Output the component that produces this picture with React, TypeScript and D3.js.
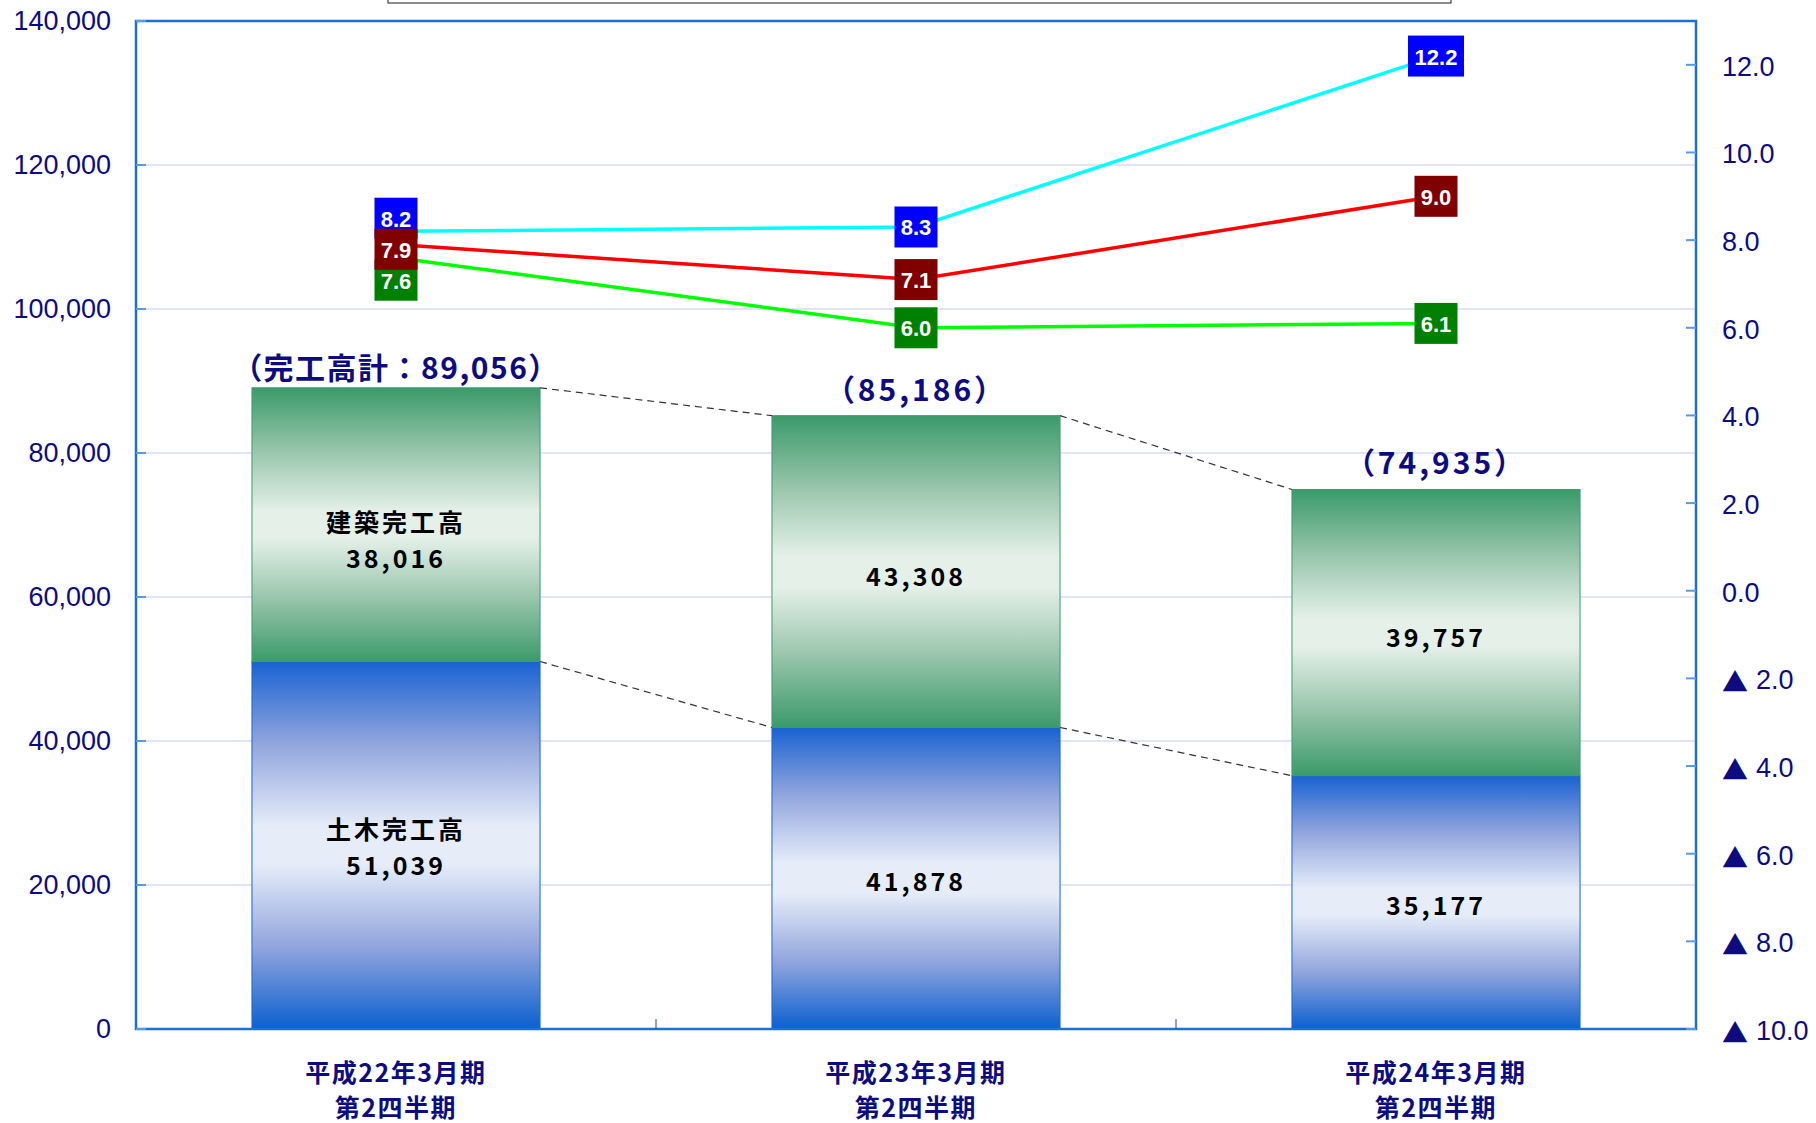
import * as d3 from "d3";

// 期間（横軸カテゴリ）
const periods = ["平成22年3月期", "平成23年3月期", "平成24年3月期"];
const periodSubs = ["第2四半期", "第2四半期", "第2四半期"];

// 完工高（百万円）
const civilValues = [51039, 41878, 35177];
const buildingValues = [38016, 43308, 39757];
const totalValues = [89056, 85186, 74935];
const segmentNames = ["土木完工高", "建築完工高"];

// 右軸の比率（%）
const rateCyan = [8.2, 8.3, 12.2];
const rateRed = [7.9, 7.1, 9.0];
const rateGreen = [7.6, 6.0, 6.1];

const leftTicks = [0, 20000, 40000, 60000, 80000, 100000, 120000, 140000];
const rightTicks = [-10, -8, -6, -4, -2, 0, 2, 4, 6, 8, 10, 12];

const W = 1816;
const H = 1123;
const margin = { top: 21, right: 120, bottom: 94, left: 136 };

const NAVY = "#0c0c80";
const AXIS = "#1a70d6";
const FONT = "'Noto Sans CJK JP', 'Liberation Sans', sans-serif";
const NUMFONT = "'Liberation Sans', Arial, sans-serif";

type LineSeries = { key: string; values: number[]; line: string; box: string };

const lineSeries: LineSeries[] = [
  { key: "cyan", values: rateCyan, line: "#00ffff", box: "#0000ff" },
  { key: "green", values: rateGreen, line: "#00ff00", box: "#008000" },
  { key: "red", values: rateRed, line: "#ff0000", box: "#800000" },
];

export default function App() {
  const x0 = margin.left;
  const x1 = W - margin.right;
  const y0 = H - margin.bottom;
  const y1 = margin.top;

  const xScale = d3
    .scaleBand<string>()
    .domain(periods)
    .range([x0, x1])
    .paddingInner(0.446)
    .paddingOuter(0.223);
  const bw = xScale.bandwidth();
  const cx = (i: number) => (xScale(periods[i]) ?? 0) + bw / 2;

  const yLeft = d3.scaleLinear().domain([0, 140000]).range([y0, y1]);
  const yRight = d3.scaleLinear().domain([-10, 13]).range([y0, y1]);

  const fmt = d3.format(",");

  const lineGen = d3
    .line<number>()
    .x((_, i) => cx(i))
    .y((d) => yRight(d));

  // ラベル位置の重なりを簡単に解消
  const boxH = 41;
  const minGap = 31;
  const labelY: Record<string, number[]> = {};
  lineSeries.forEach((s) => (labelY[s.key] = s.values.map((v) => yRight(v))));
  periods.forEach((_, i) => {
    const items = lineSeries
      .map((s) => ({ key: s.key, y: labelY[s.key][i] }))
      .sort((a, b) => a.y - b.y);
    for (let it = 0; it < 40; it++) {
      for (let k = 0; k < items.length - 1; k++) {
        const d = items[k + 1].y - items[k].y;
        if (d < minGap) {
          const push = (minGap - d) / 2;
          items[k].y -= push * 0.8;
          items[k + 1].y += push * 1.2;
        }
      }
    }
    items.forEach((o) => (labelY[o.key][i] = o.y));
  });

  const boxWidth = (t: string) =>
    t.split("").reduce((w, c) => w + (c === "." ? 7 : 13), 0) + 10;

  const step = xScale.step();

  return (
    <svg
      width={W}
      height={H}
      style={{ position: "absolute", left: 0, top: 0, background: "#fff" }}
    >
      <defs>
        <linearGradient id="gBlue" x1="0" y1="0" x2="0" y2="1">
          <stop offset="0" stopColor="#1862d2" />
          <stop offset="0.22" stopColor="#90a4dd" />
          <stop offset="0.45" stopColor="#e6edf9" />
          <stop offset="0.55" stopColor="#e6edf9" />
          <stop offset="0.78" stopColor="#90a4dd" />
          <stop offset="1" stopColor="#0b60cf" />
        </linearGradient>
        <linearGradient id="gGreen" x1="0" y1="0" x2="0" y2="1">
          <stop offset="0" stopColor="#3b9a6a" />
          <stop offset="0.24" stopColor="#9cc7ae" />
          <stop offset="0.45" stopColor="#e4f0e8" />
          <stop offset="0.55" stopColor="#e4f0e8" />
          <stop offset="0.76" stopColor="#9cc7ae" />
          <stop offset="1" stopColor="#3b9a6a" />
        </linearGradient>
      </defs>

      {/* 凡例枠（上端で切れている） */}
      <rect x={388} y={-10} width={1063} height={13} fill="#fff" stroke="#404040" strokeWidth={1.2} />

      {/* grid */}
      {leftTicks.slice(1, -1).map((t) => (
        <line key={t} x1={x0} x2={x1} y1={yLeft(t)} y2={yLeft(t)} stroke="#e2e2f8" strokeWidth={2} />
      ))}

      {/* bars */}
      {periods.map((p, i) => {
        const bx = xScale(p) ?? 0;
        const yc = yLeft(civilValues[i]);
        const yt = yLeft(civilValues[i] + buildingValues[i]);
        return (
          <g key={p}>
            <rect x={bx} y={yc} width={bw} height={y0 - yc} fill="url(#gBlue)" stroke="#1a66d2" strokeWidth={1} />
            <rect x={bx} y={yt} width={bw} height={yc - yt} fill="url(#gGreen)" stroke="#3d9c6c" strokeWidth={1} />
          </g>
        );
      })}

      {/* dashed connectors */}
      {periods.slice(0, -1).map((p, i) => {
        const xa = (xScale(p) ?? 0) + bw;
        const xb = xScale(periods[i + 1]) ?? 0;
        return (
          <g key={p} stroke="#333" strokeWidth={1.2} strokeDasharray="7 5">
            <line x1={xa} x2={xb} y1={yLeft(civilValues[i] + buildingValues[i])} y2={yLeft(civilValues[i + 1] + buildingValues[i + 1])} />
            <line x1={xa} x2={xb} y1={yLeft(civilValues[i])} y2={yLeft(civilValues[i + 1])} />
          </g>
        );
      })}

      {/* bar labels */}
      {periods.map((p, i) => {
        const c = cx(i);
        const midC = yLeft(civilValues[i] / 2);
        const midB = yLeft(civilValues[i] + buildingValues[i] / 2);
        const style = { fontFamily: FONT, fontSize: 25, fontWeight: 700, letterSpacing: 3 };
        const two = i === 0;
        return (
          <g key={p} textAnchor="middle" fill="#000" style={style}>
            {two ? (
              <>
                <text x={c} y={midB - 4} dominantBaseline="central">{segmentNames[1]}</text>
                <text x={c} y={midB + 32} dominantBaseline="central">{fmt(buildingValues[i])}</text>
                <text x={c} y={midC - 17} dominantBaseline="central">{segmentNames[0]}</text>
                <text x={c} y={midC + 19} dominantBaseline="central">{fmt(civilValues[i])}</text>
              </>
            ) : (
              <>
                <text x={c} y={midB + 3} dominantBaseline="central">{fmt(buildingValues[i])}</text>
                <text x={c} y={midC + 2} dominantBaseline="central">{fmt(civilValues[i])}</text>
              </>
            )}
          </g>
        );
      })}

      {/* total labels */}
      {periods.map((p, i) => (
        <text
          key={p}
          x={cx(i)}
          y={yLeft(totalValues[i]) - (i === 0 ? 22 : 28)}
          textAnchor="middle"
          dominantBaseline="central"
          fill={NAVY}
          style={{ fontFamily: FONT, fontSize: 30, fontWeight: 700, letterSpacing: i === 0 ? 1.5 : 3 }}
        >
          {i === 0 ? `（完工高計：${fmt(totalValues[i])}）` : `（${fmt(totalValues[i])}）`}
        </text>
      ))}

      {/* plot frame */}
      <rect x={x0} y={y1} width={x1 - x0} height={y0 - y1} fill="none" stroke={AXIS} strokeWidth={2.5} />

      {/* left ticks */}
      {leftTicks.map((t) => (
        <g key={t}>
          <line x1={x0} x2={x0 + 10} y1={yLeft(t)} y2={yLeft(t)} stroke="#5a9ae0" strokeWidth={2} />
          <text
            x={111}
            y={yLeft(t)}
            textAnchor="end"
            dominantBaseline="central"
            fill={NAVY}
            style={{ fontFamily: NUMFONT, fontSize: 27 }}
          >
            {fmt(t)}
          </text>
        </g>
      ))}

      {/* right ticks */}
      {rightTicks.map((t) => (
        <g key={t}>
          <line x1={x1 - 10} x2={x1} y1={yRight(t)} y2={yRight(t)} stroke="#5a9ae0" strokeWidth={2} />
          <text
            x={1722}
            y={yRight(t) + 2}
            textAnchor="start"
            dominantBaseline="central"
            fill={NAVY}
            style={{ fontFamily: NUMFONT, fontSize: 27 }}
          >
            {t < 0 ? (
              <>
                <tspan style={{ fontFamily: FONT, fontSize: 26 }}>▲</tspan>
                <tspan dx={8}>{(-t).toFixed(1)}</tspan>
              </>
            ) : (
              t.toFixed(1)
            )}
          </text>
        </g>
      ))}

      {/* category separators */}
      {periods.slice(1).map((p, i) => (
        <line key={p} x1={x0 + step * (i + 1)} x2={x0 + step * (i + 1)} y1={y0} y2={y0 - 10} stroke="#1a4f9a" strokeWidth={1} />
      ))}

      {/* x labels */}
      {periods.map((p, i) => (
        <g key={p} textAnchor="middle" fill={NAVY} style={{ fontFamily: FONT, fontSize: 25, fontWeight: 700, letterSpacing: 1.5 }}>
          <text x={cx(i)} y={1071} dominantBaseline="central">{p}</text>
          <text x={cx(i)} y={1106} dominantBaseline="central">{periodSubs[i]}</text>
        </g>
      ))}

      {/* rate lines */}
      {lineSeries.map((s) => (
        <path key={s.key} d={lineGen(s.values) ?? ""} fill="none" stroke={s.line} strokeWidth={3.5} />
      ))}

      {/* rate labels */}
      {lineSeries.map((s) =>
        s.values.map((v, i) => {
          const t = v.toFixed(1);
          const w = boxWidth(t);
          const yy = labelY[s.key][i];
          return (
            <g key={s.key + i}>
              <rect x={cx(i) - w / 2} y={yy - boxH / 2} width={w} height={boxH} fill={s.box} />
              <text
                x={cx(i)}
                y={yy + 1}
                textAnchor="middle"
                dominantBaseline="central"
                fill="#fff"
                style={{ fontFamily: NUMFONT, fontSize: 22, fontWeight: 700 }}
              >
                {t}
              </text>
            </g>
          );
        })
      )}
    </svg>
  );
}
